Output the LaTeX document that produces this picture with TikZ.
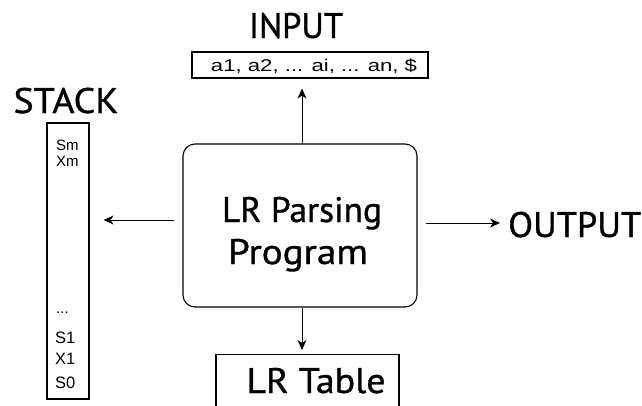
\documentclass[tikz,border=0pt]{standalone}
\usepackage{fontspec}
\usepackage{graphicx}
\newfontfamily\myriad[FakeBold=0.9]{PT Sans}
\newfontfamily\arial{Liberation Sans}
\usetikzlibrary{arrows.meta}
\newcommand\fitw[2]{\resizebox{#1}{\height}{#2}}
\begin{document}
\begin{tikzpicture}[x=1pt,y=-1pt,
  box/.style={draw,line width=1.1pt,inner sep=0pt},
  arr/.style={line width=0.9pt,-{Stealth[length=10pt,width=9pt,inset=3pt]}},
  big/.style={font=\myriad\fontsize{35.5}{35.5}\selectfont,inner sep=0pt,anchor=base},
  small/.style={font=\arial\fontsize{15}{15}\selectfont,anchor=base west,inner sep=0pt},
  smallb/.style={font=\arial\fontsize{16.5}{16.5}\selectfont,anchor=base west,inner sep=0pt}]
\useasboundingbox[fill=white] (0,0) rectangle (642,405);
% main box
\node[box,rounded corners=12pt,minimum width=234pt,minimum height=163pt] (main) at (300,225.5) {};
\node[big] (l1) at (302,222) {\fitw{160pt}{LR Parsing}};
\node[big] (l2) at (298,264) {\fitw{140pt}{Program}};
% input
\node[big] (inlbl) at (296,38) {\fitw{94pt}{INPUT}};
\node[box,minimum width=236pt,minimum height=26pt] (in) at (310,65) {};
\node[font=\arial\fontsize{17}{17}\selectfont,inner sep=0pt,anchor=base] (intext) at (314,71) {\fitw{206pt}{a1, a2, ... ai, ... an, \$}};
% stack
\node[big] (stlbl) at (66,113) {\fitw{105pt}{STACK}};
\node[box,minimum width=42pt,minimum height=276pt] (stack) at (68,261) {};
\node[small] (sm) at (56,150) {Sm};
\node[small] (xm) at (56,166) {Xm};
\node[small] (dots) at (56,313) {...};
\node[smallb] (s1) at (55,343) {S1};
\node[smallb] (x1) at (55,364) {X1};
\node[smallb] (s0) at (55,388) {S0};
% table
\node[box,minimum width=183pt,minimum height=70pt,anchor=north] (tab) at (307.5,354) {};
\node[big] (tablbl) at (316,393) {\fitw{139pt}{LR Table}};
% output
\node[big,anchor=base west] (out) at (508,237) {\fitw{133pt}{OUTPUT}};
% arrows
\coordinate (ua) at ([xshift=2pt]main.north);
\draw[arr,shorten >=10pt] (ua) -- (ua |- in.south);
\coordinate (da) at ([xshift=2pt]main.south);
\draw[arr,shorten >=4pt] (da) -- (da |- tab.north);
\coordinate (la) at ([yshift=5.5pt]main.west);
\draw[arr,shorten <=8pt,shorten >=14pt] (la) -- (la -| stack.east);
\coordinate (ra) at ([yshift=2.5pt]main.east);
\draw[arr,shorten <=8pt,shorten >=8pt] (ra) -- (ra -| out.west);
\end{tikzpicture}
\end{document}
